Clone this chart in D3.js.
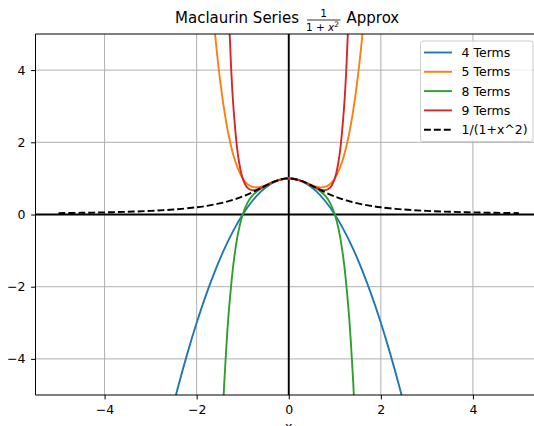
<!DOCTYPE html>
<html>
<head>
<meta charset="utf-8">
<script src="https://cdn.jsdelivr.net/npm/d3@7"></script>
<style>
  body { margin: 0; background: #fff; }
  svg { font-family: "DejaVu Sans", sans-serif; display: block; }
</style>
</head>
<body>
<svg id="chart" width="534" height="426"></svg>
<script>
// series values, as [x, y]
const terms4 = [[-2.6,-5.76],[-2.4,-4.76],[-2.2,-3.84],[-2,-3],[-1.8,-2.24],[-1.6,-1.56],[-1.4,-0.96],[-1.2,-0.44],[-1,0],[-0.8,0.36],[-0.6,0.64],[-0.4,0.84],[-0.2,0.96],[0,1],[0.2,0.96],[0.4,0.84],[0.6,0.64],[0.8,0.36],[1,0],[1.2,-0.44],[1.4,-0.96],[1.6,-1.56],[1.8,-2.24],[2,-3],[2.2,-3.84],[2.4,-4.76],[2.6,-5.76]];
const terms5 = [[-1.7,6.4621],[-1.6,4.9936],[-1.5,3.8125],[-1.4,2.8816],[-1.3,2.1661],[-1.2,1.6336],[-1.1,1.2541],[-1,1],[-0.9,0.8461],[-0.8,0.7696],[-0.7,0.7501],[-0.6,0.7696],[-0.5,0.8125],[-0.4,0.8656],[-0.3,0.9181],[-0.2,0.9616],[-0.1,0.9901],[0,1],[0.1,0.9901],[0.2,0.9616],[0.3,0.9181],[0.4,0.8656],[0.5,0.8125],[0.6,0.7696],[0.7,0.7501],[0.8,0.7696],[0.9,0.8461],[1,1],[1.1,1.2541],[1.2,1.6336],[1.3,2.1661],[1.4,2.8816],[1.5,3.8125],[1.6,4.9936],[1.7,6.4621]];
const terms8 = [[-1.5,-7.5781],[-1.45,-5.9761],[-1.4,-4.6479],[-1.35,-3.5545],[-1.3,-2.6607],[-1.2,-1.3524],[-1.1,-0.5175],[-1,0],[-0.9,0.3147],[-0.8,0.5075],[-0.7,0.6325],[-0.6,0.7229],[-0.5,0.7969],[-0.4,0.8615],[-0.3,0.9174],[-0.2,0.9615],[-0.1,0.9901],[0,1],[0.1,0.9901],[0.2,0.9615],[0.3,0.9174],[0.4,0.8615],[0.5,0.7969],[0.6,0.7229],[0.7,0.6325],[0.8,0.5075],[0.9,0.3147],[1,0],[1.1,-0.5175],[1.2,-1.3524],[1.3,-2.6607],[1.35,-3.5545],[1.4,-4.6479],[1.45,-5.9761],[1.5,-7.5781]];
const terms9 = [[-1.35,7.4779],[-1.3,5.4966],[-1.25,4.0247],[-1.2,2.9474],[-1.1,1.6261],[-1,1],[-0.9,0.7452],[-0.8,0.6753],[-0.7,0.6901],[-0.6,0.7397],[-0.5,0.8008],[-0.4,0.8622],[-0.3,0.9175],[-0.2,0.9615],[-0.1,0.9901],[0,1],[0.1,0.9901],[0.2,0.9615],[0.3,0.9175],[0.4,0.8622],[0.5,0.8008],[0.6,0.7397],[0.7,0.6901],[0.8,0.6753],[0.9,0.7452],[1,1],[1.1,1.6261],[1.2,2.9474],[1.25,4.0247],[1.3,5.4966],[1.35,7.4779]];
const exact = [[-5,0.0385],[-4.5,0.0471],[-4,0.0588],[-3.5,0.0755],[-3,0.1],[-2.5,0.1379],[-2,0.2],[-1.75,0.2462],[-1.5,0.3077],[-1.25,0.3902],[-1,0.5],[-0.75,0.64],[-0.5,0.8],[-0.25,0.9412],[0,1],[0.25,0.9412],[0.5,0.8],[0.75,0.64],[1,0.5],[1.25,0.3902],[1.5,0.3077],[1.75,0.2462],[2,0.2],[2.5,0.1379],[3,0.1],[3.5,0.0755],[4,0.0588],[4.5,0.0471],[5,0.0385]];

const seriesNames = ["4 Terms", "5 Terms", "8 Terms", "9 Terms", "1/(1+x^2)"];
const seriesData = [terms4, terms5, terms8, terms9, exact];
const colors = ["#1f77b4", "#ff7f0e", "#2ca02c", "#d62728", "#000000"];
const xTicks = [-4, -2, 0, 2, 4];
const yTicks = [-4, -2, 0, 2, 4];

const svg = d3.select("#chart");
const m = { left: 35.5, top: 34, right: 542, bottom: 395 };
const fs = 12.5;
const dash = "6.9,3";

const x = d3.scaleLinear().domain([-5.5, 5.5]).range([m.left, m.right]);
const y = d3.scaleLinear().domain([-5, 5]).range([m.bottom, m.top]);

svg.append("defs").append("clipPath").attr("id", "clip")
    .append("rect")
    .attr("x", m.left).attr("y", m.top)
    .attr("width", m.right - m.left).attr("height", m.bottom - m.top);

// grid
const grid = svg.append("g");
grid.selectAll(".gx").data(xTicks).enter().append("line")
    .attr("x1", d => x(d)).attr("x2", d => x(d))
    .attr("y1", m.top).attr("y2", m.bottom)
    .attr("stroke", "#b0b0b0").attr("stroke-width", 1);
grid.selectAll(".gy").data(yTicks).enter().append("line")
    .attr("x1", m.left).attr("x2", m.right)
    .attr("y1", d => y(d)).attr("y2", d => y(d))
    .attr("stroke", "#b0b0b0").attr("stroke-width", 1);

const plot = svg.append("g").attr("clip-path", "url(#clip)");

// zero lines
plot.append("line")
    .attr("x1", m.left).attr("x2", m.right)
    .attr("y1", y(0)).attr("y2", y(0))
    .attr("stroke", "#000").attr("stroke-width", 1.9);
plot.append("line")
    .attr("x1", x(0)).attr("x2", x(0))
    .attr("y1", m.top).attr("y2", m.bottom)
    .attr("stroke", "#000").attr("stroke-width", 1.9);

const line = d3.line()
    .x(d => x(d[0]))
    .y(d => y(d[1]))
    .curve(d3.curveCatmullRom.alpha(0.5));

seriesData.forEach((data, i) => {
    plot.append("path")
        .datum(data)
        .attr("d", line)
        .attr("fill", "none")
        .attr("stroke", colors[i])
        .attr("stroke-width", 1.9)
        .attr("stroke-dasharray", i === 4 ? dash : null);
});

// axes
const fmt = d => d3.format("d")(d).replace("-", "\u2212");
const xAxis = svg.append("g")
    .attr("transform", `translate(0,${m.bottom})`)
    .call(d3.axisBottom(x).tickValues(xTicks).tickSize(4.4).tickPadding(6).tickFormat(fmt));
const yAxis = svg.append("g")
    .attr("transform", `translate(${m.left},0)`)
    .call(d3.axisLeft(y).tickValues(yTicks).tickSize(4.4).tickPadding(5.6).tickFormat(fmt));
[xAxis, yAxis].forEach(g => {
    g.select(".domain").remove();
    g.selectAll("text").attr("font-family", "DejaVu Sans").attr("font-size", fs).attr("fill", "#000");
    g.selectAll("line").attr("stroke", "#000").attr("stroke-width", 1);
});

// spines
svg.append("line").attr("x1", m.left).attr("x2", m.left).attr("y1", m.top).attr("y2", m.bottom)
    .attr("stroke", "#000").attr("stroke-width", 1);
svg.append("line").attr("x1", m.left).attr("x2", m.right).attr("y1", m.bottom).attr("y2", m.bottom)
    .attr("stroke", "#000").attr("stroke-width", 1);
svg.append("line").attr("x1", m.left).attr("x2", m.right).attr("y1", m.top).attr("y2", m.top)
    .attr("stroke", "#000").attr("stroke-width", 1);

// x label (cut by the bottom edge, as in the original)
svg.append("text").attr("x", x(0)).attr("y", 430.5).attr("text-anchor", "middle")
    .attr("font-size", fs).text("x");

// title with fraction
const title = svg.append("g").attr("font-size", 15);
title.append("text").attr("x", 175).attr("y", 23).text("Maclaurin Series");
title.append("text").attr("x", 323.5).attr("y", 16.8).attr("text-anchor", "middle")
    .attr("font-size", 10.5).text("1");
title.append("line").attr("x1", 307).attr("x2", 340.5).attr("y1", 20).attr("y2", 20)
    .attr("stroke", "#000").attr("stroke-width", 0.8);
const den = title.append("text").attr("x", 322.5).attr("y", 30.5).attr("text-anchor", "middle")
    .attr("font-size", 10.5);
den.append("tspan").text("1 + ");
den.append("tspan").attr("font-style", "italic").text("x");
den.append("tspan").attr("font-size", 7.5).attr("dy", -4).text("2");
title.append("text").attr("x", 346.5).attr("y", 23).text("Approx");

// legend
const lg = svg.append("g");
lg.append("rect").attr("x", 420.5).attr("y", 41).attr("width", 112.5).attr("height", 100.5)
    .attr("rx", 2.5).attr("fill", "#fff").attr("fill-opacity", 0.8)
    .attr("stroke", "#cccccc").attr("stroke-width", 1);
seriesNames.forEach((name, i) => {
    const cy = 52.5 + i * 19.3;
    lg.append("line").attr("x1", 424).attr("x2", 452).attr("y1", cy).attr("y2", cy)
        .attr("stroke", colors[i]).attr("stroke-width", 1.9)
        .attr("stroke-dasharray", i === 4 ? dash : null);
    lg.append("text").attr("x", 461.5).attr("y", cy + 4.5)
        .attr("font-size", fs).text(name);
});
</script>
</body>
</html>
